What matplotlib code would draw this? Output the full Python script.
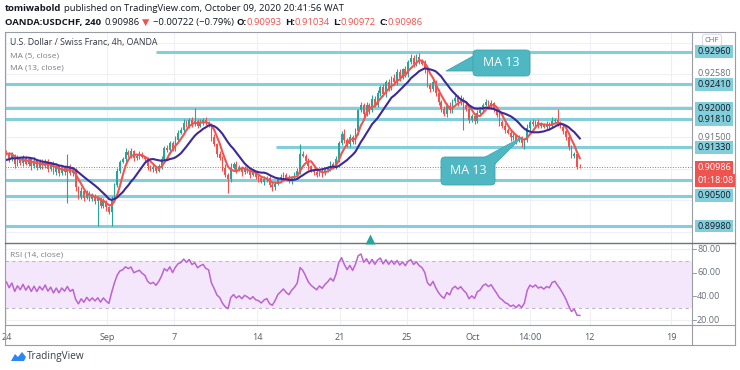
import numpy as np
import pandas as pd
import matplotlib
matplotlib.use("Agg")
import matplotlib.pyplot as plt
from matplotlib.patches import FancyBboxPatch, Polygon

plt.rcParams['font.family'] = ['Open Sans', 'DejaVu Sans']

# 4h closes in pips (9124 -> 0.9124), Aug 24 .. Oct 9 2020
warmup_closes = [9070, 9064, 9078, 9090, 9084, 9098, 9092, 9106, 9100, 9094,
                 9110, 9104, 9098, 9112, 9106, 9114, 9110, 9122, 9130, 9124]
closes = [
    9122, 9112, 9120, 9104, 9114, 9106, 9116, 9104, 9112, 9100,
    9110, 9098, 9108, 9100, 9110, 9096, 9104, 9090, 9100, 9088,
    9098, 9090, 9100, 9088, 9092, 9064, 9048, 9058, 9046, 9056,
    9044, 9050, 9040, 9046, 9032, 9040, 9030, 9022, 9044, 9068,
    9092, 9108, 9112, 9124, 9120, 9126, 9114, 9118, 9122, 9116,
    9112, 9100, 9095,
    9098, 9092, 9100, 9112, 9132, 9128, 9140, 9130, 9146, 9158,
    9162, 9175, 9170, 9180, 9172, 9178, 9170, 9176, 9180, 9174,
    9172, 9150, 9138, 9122, 9115, 9098, 9085, 9078, 9098, 9104,
    9094, 9098, 9090, 9096, 9092, 9086, 9090, 9082, 9080, 9074,
    9078, 9080, 9068, 9064, 9070, 9078, 9082, 9086, 9080, 9076,
    9082,
    9086, 9092, 9122, 9118, 9110, 9100, 9094, 9090, 9086, 9092,
    9088, 9094, 9098, 9104, 9100, 9112, 9140, 9156, 9146, 9138,
    9150, 9142, 9160, 9196, 9205, 9190, 9206, 9196, 9216, 9206,
    9226, 9236, 9224, 9244, 9234, 9252, 9244, 9262, 9252, 9266,
    9258, 9278, 9286, 9276, 9288, 9280, 9276, 9266, 9240, 9232,
    9244, 9226, 9210,
    9198, 9190, 9204, 9196, 9212, 9218, 9210, 9216, 9206, 9198,
    9180, 9186, 9178, 9192, 9196, 9206, 9210, 9204, 9208, 9198,
    9188, 9176, 9170, 9162, 9158, 9150, 9152, 9144, 9148, 9140,
    9146, 9166, 9176, 9172, 9176, 9170, 9172, 9168, 9172, 9170,
    9178, 9180, 9174, 9168, 9160, 9150, 9134, 9118, 9121, 9099.3,
    9098.6,
]
# upper / lower wick lengths in pips
wick_up = [
    4, 3, 5, 2, 6, 3, 4, 2, 5, 3, 6, 2, 4, 5, 3, 2, 4, 6, 3, 2,
    4, 3, 22, 4, 3, 5, 2, 6, 3, 4, 2, 5, 3, 4, 2, 6, 3, 2, 5, 4,
    6, 3, 5, 8, 4, 6, 3, 4, 5, 3, 2, 4, 3, 5, 2, 4, 6, 3, 5, 4,
    3, 6, 4, 5, 7, 4, 3, 5, 22, 4, 6, 3, 5, 4, 3, 5, 2, 4, 3, 6,
    4, 8, 3, 5, 4, 2, 5, 3, 4, 6, 3, 4, 2, 5, 3, 4, 6, 3, 2, 5,
    4, 3, 5, 2, 4, 6, 17, 4, 3, 5, 2, 4, 6, 3, 5, 4, 2, 5, 3, 6,
    4, 5, 8, 3, 6, 4, 5, 3, 6, 4, 5, 3, 6, 4, 5, 3, 6, 4, 5, 3,
    6, 4, 5, 3, 6, 4, 7, 5, 5, 6, 4, 6, 5, 3, 5, 4, 6, 3, 5, 4,
    6, 3, 5, 4, 6, 3, 5, 4, 3, 6, 4, 5, 3, 6, 4, 5, 3, 4, 6, 3,
    5, 3, 4, 6, 3, 5, 4, 3, 6, 4, 5, 3, 6, 4, 3, 5, 4, 6, 3, 18,
    4, 3, 5, 6, 3, 4, 4, 4.1,
]
wick_dn = [
    3, 5, 2, 6, 4, 3, 5, 2, 4, 6, 3, 4, 2, 5, 3, 6, 4, 3, 5, 4,
    2, 4, 52, 3, 5, 6, 4, 3, 5, 2, 4, 3, 5, 42, 4, 3, 6, 4, 24, 5,
    3, 4, 2, 5, 3, 6, 4, 3, 5, 2, 4, 6, 3, 5, 4, 2, 5, 3, 4, 6,
    3, 4, 5, 2, 6, 3, 4, 5, 3, 4, 2, 5, 3, 4, 6, 3, 5, 4, 6, 3,
    24, 4, 3, 5, 2, 6, 3, 4, 5, 3, 4, 6, 3, 5, 4, 3, 6, 4, 2, 5,
    3, 4, 5, 6, 3, 4, 5, 2, 4, 6, 3, 5, 4, 2, 6, 3, 4, 5, 3, 4,
    5, 3, 6, 4, 5, 3, 4, 6, 3, 5, 4, 6, 3, 5, 4, 6, 3, 5, 4, 3,
    5, 4, 6, 3, 5, 4, 3, 6, 4, 5, 3, 6, 4, 5, 3, 6, 4, 5, 3, 6,
    4, 5, 3, 6, 4, 44, 3, 5, 4, 6, 3, 4, 5, 3, 6, 4, 5, 3, 6, 4,
    5, 3, 6, 4, 5, 3, 6, 10, 4, 5, 3, 6, 4, 5, 3, 4, 6, 3, 5, 4,
    3, 5, 4, 6, 4, 3, 4, 1.4,
]

level_prices = [0.92960, 0.92410, 0.92000, 0.91810, 0.91330, 0.90768, 0.90500, 0.89980]
level_labels = ['0.92960', '0.92410', '0.92000', '0.91810', '0.91330', '', '0.90500', '0.89980']
level_start = [54, -1, -1, -1, 97.5, -1, -1, -1]

last_price = 0.90986
tick_pos = [0, 36.5, 60.5, 90.5, 120.5, 144.5, 168.5, 189, 210.5, 240]
tick_labels = ['24', 'Sep', '7', '14', '21', '25', 'Oct', '14:00', '12', '19']

# ---- series
full = np.array(warmup_closes + closes, dtype=float) / 1e4
x_full = np.arange(-len(warmup_closes), len(closes))
c = np.array(closes, dtype=float) / 1e4
o = full[len(warmup_closes) - 1:-1]
hi = np.maximum(o, c) + np.array(wick_up) / 1e4
lo = np.minimum(o, c) - np.array(wick_dn) / 1e4
x = np.arange(len(closes))

s = pd.Series(full)
ma5 = s.rolling(5).mean()
ma13 = s.rolling(13).mean()

delta = s.diff()
gain = delta.clip(lower=0)
loss = -delta.clip(upper=0)
avg_g = gain.ewm(alpha=1 / 14, adjust=False).mean()
avg_l = loss.ewm(alpha=1 / 14, adjust=False).mean()
rsi = 100 - 100 / (1 + avg_g / avg_l)

W, H = 740, 370
def fx(px):
    return px / W
def fy(py):
    return 1 - py / H

fig = plt.figure(figsize=(7.4, 3.7), dpi=100)
fig.patch.set_facecolor('white')

ax = fig.add_axes([fx(5), fy(243), fx(692) - fx(5), fy(33) - fy(243)])
rax = fig.add_axes([fx(5), fy(325), fx(692) - fx(5), fy(243) - fy(325)], sharex=ax)
xlim = (-0.5, 247.5)
ax.set_xlim(*xlim)
ax.set_ylim(0.89689, 0.93285)
rax.set_ylim(15.8, 85.1)
for a in (ax, rax):
    for sp in a.spines.values():
        sp.set_visible(False)
    a.set_yticks([])
ax.tick_params(axis='x', length=0, labelbottom=False)

# grid
grid_c = '#eef0f5'
for t in tick_pos:
    ax.axvline(t, color=grid_c, lw=0.8, zorder=0)
    rax.axvline(t, color=grid_c, lw=0.8, zorder=0)
for p in [0.8988, 0.9042, 0.9096, 0.9150, 0.9204, 0.9258, 0.9312]:
    ax.axhline(p, color=grid_c, lw=0.8, zorder=0)
for v in [20, 40, 60, 80]:
    rax.axhline(v, color=grid_c, lw=0.8, zorder=0)

# support / resistance lines
for p, st in zip(level_prices, level_start):
    ax.hlines(p, st, xlim[1], color='#82cedb', lw=2.2, zorder=1)

ax.axhline(last_price, color='#ef5350', ls=(0, (1, 1.6)), lw=0.7, zorder=1)

# candles
up_c, dn_c = '#26a69a', '#ef5350'
cols = [up_c if cc >= oo else dn_c for oo, cc in zip(o, c)]
ax.vlines(x, lo, hi, colors=cols, lw=0.8, zorder=2)
body = np.maximum(np.abs(c - o), 0.00002)
ax.bar(x, body, bottom=np.minimum(o, c), width=0.62, color=cols, zorder=3, linewidth=0)

ax.plot(x_full, ma5, color='#f25451', lw=1.5, zorder=4)
ax.plot(x_full, ma13, color='#3b2a98', lw=1.5, zorder=4)

# price axis labels
ylab = ax.get_yaxis_transform()
lab_x = 1 + 5 / 687
ax.text(lab_x, 0.9150, '0.91500', transform=ylab, ha='left', va='center',
        fontsize=6.5, color='#6a6d78', clip_on=False, zorder=5)
ax.text(lab_x, 0.92585, '0.92580', transform=ylab, ha='left', va='center',
        fontsize=6.5, color='#6a6d78', clip_on=False, zorder=5)
for p, t in zip(level_prices, level_labels):
    if t:
        ax.text(lab_x, p, t, transform=ylab, ha='left', va='center', fontsize=6.5,
                color='#131722', clip_on=False, zorder=6,
                bbox=dict(boxstyle='square,pad=0.22', fc='#82cedb', ec='none'))
ax.text(lab_x, last_price, '0.90986', transform=ylab, ha='left', va='center',
        fontsize=6.5, color='white', clip_on=False, zorder=7,
        bbox=dict(boxstyle='square,pad=0.22', fc='#ef5350', ec='none'))
ax.text(lab_x, 0.90752, '01:18:08', transform=ylab, ha='left', va='center',
        fontsize=6.5, color='white', clip_on=False, zorder=7,
        bbox=dict(boxstyle='square,pad=0.22', fc='#ef5350', ec='none'))

# RSI pane
rax.axhspan(30, 70, color='#f4e7fc', zorder=0.5, lw=0)
for v in (30, 70):
    rax.axhline(v, color='#c3b3cc', ls=(0, (3, 3)), lw=0.8, zorder=1)
rax.plot(x_full, rsi, color='#bb63d0', lw=1.1, zorder=3)
rlab = rax.get_yaxis_transform()
for v in [20, 40, 60, 80]:
    rax.text(lab_x, v, f'{v:.2f}', transform=rlab, ha='left', va='center',
             fontsize=6.5, color='#6a6d78', clip_on=False)
    rax.plot([1, 1 + 4 / 687], [v, v], transform=rlab, color='#8a8d96', lw=0.6, clip_on=False)
rax.set_xticks(tick_pos)
rax.set_xticklabels(tick_labels)
rax.tick_params(axis='x', length=0, pad=6, labelsize=6.5, labelcolor='#555a66')

# overlay in pixel coordinates
ov = fig.add_axes([0, 0, 1, 1], zorder=10)
ov.set_xlim(0, W)
ov.set_ylim(H, 0)
ov.axis('off')

frame_c = '#9a9da6'
for (x0, y0, x1, y1) in [(5, 32, 735, 32), (5, 32, 5, 345), (735, 32, 735, 345),
                         (692, 32, 692, 345), (5, 325, 735, 325), (5, 345, 735, 345)]:
    ov.plot([x0, x1], [y0, y1], color=frame_c, lw=0.8)
ov.plot([5, 735], [243, 243], color='#6f727b', lw=1.0)

# legend
ov.text(10, 43, 'U.S. Dollar / Swiss Franc, 4h, OANDA', fontsize=6.3, color='#333743', va='center')
ov.text(10, 56, 'MA (5, close)', fontsize=6.0, color='#7a7d86', va='center')
ov.text(10, 68, 'MA (13, close)', fontsize=6.0, color='#7a7d86', va='center')
ov.text(10, 255, 'RSI (14, close)', fontsize=6.0, color='#7a7d86', va='center')
ov.text(712, 40, 'CHF', fontsize=5.5, color='#6a6d78', ha='center', va='center',
        bbox=dict(boxstyle='round,pad=0.3', fc='white', ec='#d0d3da', lw=0.6))

# header
def chain(x0, y0, parts, size):
    prev = None
    for txt, col, wt, gap in parts:
        if prev is None:
            prev = ov.text(x0, y0, txt, fontsize=size, color=col, fontweight=wt,
                           va='bottom', ha='left')
        else:
            prev = ov.annotate(txt, xy=(1, 0), xycoords=prev, xytext=(gap, 0),
                               textcoords='offset points', fontsize=size, color=col,
                               fontweight=wt, va='bottom', ha='left')

dark, red = '#131722', '#ef5350'
chain(5, 13, [('tomiwabold', dark, 'bold', 0),
              ('published on TradingView.com, October 09, 2020 20:41:56 WAT', dark, 'normal', 2)], 6.8)
chain(5, 27, [('OANDA:USDCHF, 240', dark, 'bold', 0),
              ('0.90986', dark, 'normal', 2.2),
              ('\u25bc', red, 'normal', 2.2),
              ('\u22120.00722 (\u22120.79%)', dark, 'normal', 2.2),
              ('O:', dark, 'bold', 2.2), ('0.90993', red, 'normal', 0),
              ('H:', dark, 'bold', 2.2), ('0.91034', red, 'normal', 0),
              ('L:', dark, 'bold', 2.2), ('0.90972', red, 'normal', 0),
              ('C:', dark, 'bold', 2.2), ('0.90986', red, 'normal', 0)], 6.8)

# MA 13 callouts
call_c, call_e = '#4fb7c2', '#3fa6b1'
ov.add_patch(Polygon([(475, 55), (446, 71), (475, 71)], closed=True, fc=call_c, ec=call_e, lw=0.6))
ov.add_patch(FancyBboxPatch((473, 50), 57, 26, boxstyle='round,pad=0,rounding_size=4',
                            fc=call_c, ec=call_e, lw=0.6))
ov.add_patch(Polygon([(476, 162), (522, 137), (493, 166)], closed=True, fc=call_c, ec=call_e, lw=0.6))
ov.add_patch(FancyBboxPatch((441, 157), 54, 28, boxstyle='round,pad=0,rounding_size=4',
                            fc=call_c, ec=call_e, lw=0.6))
ov.add_patch(Polygon([(476.5, 162), (521, 138), (492.5, 165)], closed=True, fc=call_c, ec='none'))
ov.text(501.5, 63, 'MA 13', fontsize=9, color='white', ha='center', va='center')
ov.text(468, 171, 'MA 13', fontsize=9, color='white', ha='center', va='center')

# event marker
ov.plot(370, 238.5, marker='^', ms=7, color='#26a69a', mec='none')

# TradingView logo
ov.add_patch(Polygon([(11, 361), (15, 354), (18, 357), (22, 352), (26, 357), (24, 361)],
                     closed=True, fc='#2e86f0', ec='none'))
ov.text(27, 357, 'TradingView', fontsize=7.2, color='#3a3e4a', va='center')

fig.savefig('out.png', dpi=100)
